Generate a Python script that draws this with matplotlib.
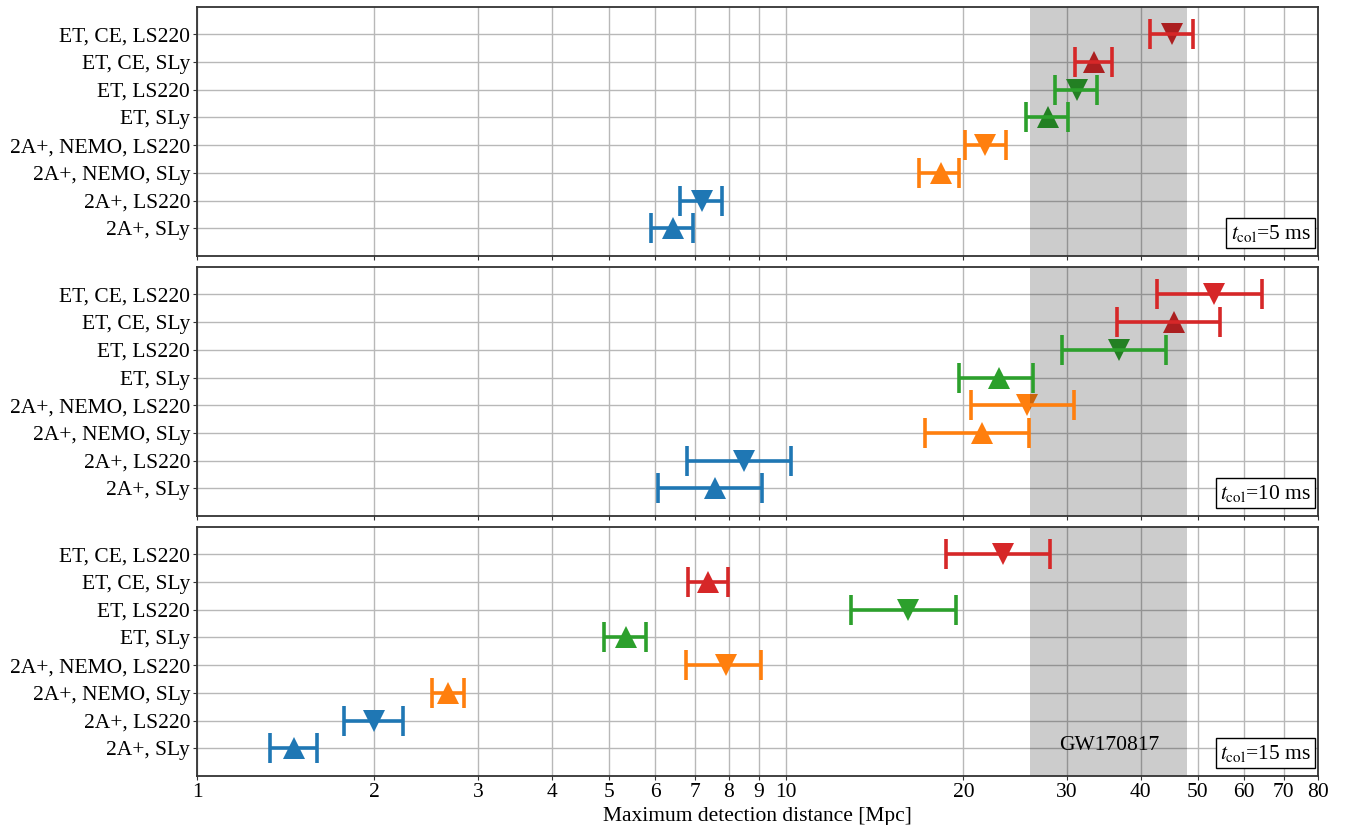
import matplotlib

matplotlib.use("Agg")
import matplotlib.pyplot as plt

plt.rcParams["font.family"] = ["Liberation Serif", "DejaVu Serif"]
plt.rcParams["mathtext.fontset"] = "stix"
plt.rcParams["font.size"] = 15.5

labels = [
    "2A+, SLy",
    "2A+, LS220",
    "2A+, NEMO, SLy",
    "2A+, NEMO, LS220",
    "ET, SLy",
    "ET, LS220",
    "ET, CE, SLy",
    "ET, CE, LS220",
]
row_colors = ["tab:blue", "tab:blue", "tab:orange", "tab:orange",
              "tab:green", "tab:green", "tab:red", "tab:red"]
row_markers = ["^", "v", "^", "v", "^", "v", "^", "v"]

# values in Mpc, rows in the order of `labels`
t5_mid = [6.42, 7.19, 18.3, 21.8, 27.8, 31.2, 33.3, 45.2]
t5_lo = [5.90, 6.61, 16.8, 20.1, 25.6, 28.6, 31.0, 41.5]
t5_hi = [6.96, 7.78, 19.7, 23.6, 30.1, 33.7, 35.7, 49.0]

t10_mid = [7.58, 8.49, 21.5, 25.7, 23.0, 36.8, 45.5, 53.3]
t10_lo = [6.07, 6.78, 17.2, 20.6, 19.7, 29.4, 36.4, 42.7]
t10_hi = [9.12, 10.2, 25.9, 30.8, 26.3, 44.2, 54.6, 64.2]

t15_mid = [1.46, 2.00, 2.67, 7.90, 5.35, 16.1, 7.38, 23.4]
t15_lo = [1.33, 1.78, 2.51, 6.76, 4.91, 12.9, 6.81, 18.7]
t15_hi = [1.60, 2.24, 2.84, 9.06, 5.78, 19.4, 7.96, 28.1]

panels = [
    ("5", t5_mid, t5_lo, t5_hi),
    ("10", t10_mid, t10_lo, t10_hi),
    ("15", t15_mid, t15_lo, t15_hi),
]

gw_lo, gw_hi = 26.0, 48.0
xticks = [1, 2, 3, 4, 5, 6, 7, 8, 9, 10, 20, 30, 40, 50, 60, 70, 80]

fig = plt.figure(figsize=(13.53, 8.25), dpi=100)
left, right = 0.1456, 0.9741
bottoms = [0.6897, 0.3745, 0.0594]
height = 0.3022
axes = [fig.add_axes([left, b, right - left, height]) for b in bottoms]

for i, (ax, (tcol, mid, lo, hi)) in enumerate(zip(axes, panels)):
    ax.set_xscale("log")
    for y in range(len(labels)):
        ax.plot(mid[y], y, marker=row_markers[y], color=row_colors[y],
                markersize=16, markeredgewidth=0, linestyle="none", zorder=2)
        ax.errorbar(mid[y], y, xerr=[[mid[y] - lo[y]], [hi[y] - mid[y]]],
                    fmt="none", ecolor=row_colors[y], elinewidth=2.6,
                    capsize=11, capthick=2.6, zorder=3)
    ax.axvspan(gw_lo, gw_hi, color="k", alpha=0.2, linewidth=0, zorder=2.5)

    ax.set_xlim(1, 80)
    ax.set_ylim(-1, len(labels))
    ax.set_yticks(range(len(labels)))
    ax.set_yticklabels(labels)
    ax.set_xticks(xticks)
    ax.set_xticklabels([str(t) for t in xticks])
    ax.xaxis.set_minor_locator(matplotlib.ticker.NullLocator())
    ax.set_axisbelow(True)
    ax.grid(True, color="#b8b8b8", linewidth=1.0)
    for sp in ax.spines.values():
        sp.set_color("#333333")
        sp.set_linewidth(1.3)
    ax.tick_params(length=3, pad=2, color="#333333")
    if i < 2:
        ax.tick_params(axis="x", labelbottom=False)

    ax.text(0.9935, 0.05, r"$t_{\rm col}$=" + tcol + " ms", transform=ax.transAxes,
            ha="right", va="bottom", fontsize=15.5,
            bbox=dict(boxstyle="square,pad=0.2", facecolor="white",
                      edgecolor="black", linewidth=1.0))

axes[2].text((gw_lo * gw_hi) ** 0.5, -0.05, "GW170817", ha="center",
             va="baseline", fontsize=15.5)
axes[2].set_xlabel("Maximum detection distance [Mpc]", labelpad=3.5)

fig.savefig("out.png", dpi=100)
